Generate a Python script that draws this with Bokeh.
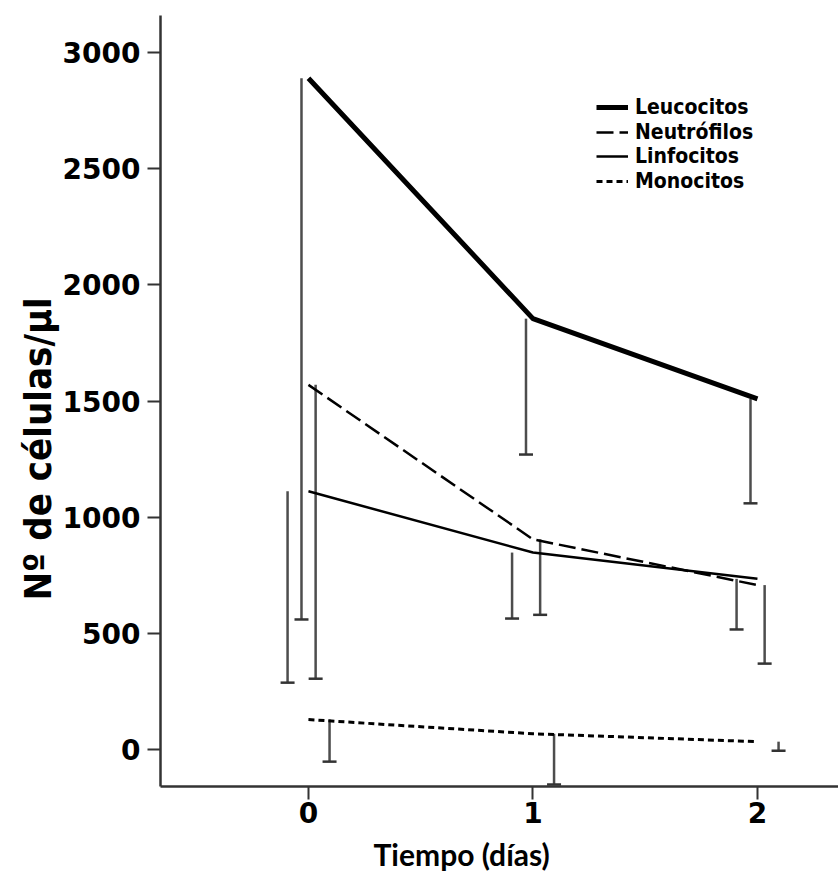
from bokeh.plotting import figure
from bokeh.models import (Range1d, Whisker, ColumnDataSource, Legend, LegendItem,
                          FixedTicker, TeeHead, Title)
from bokeh.embed import file_html
from bokeh.resources import INLINE

# Mean cell counts per day and the lower end of each error bar
days = [0, 1, 2]
leucocitos = [2890, 1855, 1510]
leucocitos_low = [560, 1270, 1060]
neutrofilos = [1570, 905, 708]
neutrofilos_low = [305, 580, 370]
linfocitos = [1112, 848, 735]
linfocitos_low = [288, 564, 517]
monocitos = [129, 68, 34]
monocitos_low = [-52, -150, -5]
series_names = ["Leucocitos", "Neutrófilos", "Linfocitos", "Monocitos"]
y_ticks = [0, 500, 1000, 1500, 2000, 2500, 3000]
x_ticks = [0, 1, 2]
x_title = "Tiempo (días)"
y_title = "Nº de células/µl"

TICK_FONT = "DejaVu Sans"
LABEL_FONT = "Lato"
LEGEND_FONT = "DejaVu Sans Condensed"
FRAME_BOTTOM = 786  # canvas y of the frame's lower edge

p = figure(width=838, height=880, output_backend="svg", toolbar_location=None,
           x_range=Range1d(-0.659, 2.361), y_range=Range1d(-159, 3160),
           min_border_left=160, min_border_right=0, min_border_top=15,
           min_border_bottom=880 - FRAME_BOTTOM)
p.outline_line_color = None
p.xgrid.visible = False
p.ygrid.visible = False
p.background_fill_color = "white"
p.border_fill_color = "white"

# series: values, lower bar ends, horizontal dodge of the bars, line style
styles = [
    (leucocitos, leucocitos_low, -0.031, dict(line_width=5, line_dash="solid")),
    (neutrofilos, neutrofilos_low, 0.032, dict(line_width=2.5, line_dash="17 6")),
    (linfocitos, linfocitos_low, -0.093, dict(line_width=2.5, line_dash="solid")),
    (monocitos, monocitos_low, 0.094, dict(line_width=3, line_dash="6 4")),
]

renderers = []
for name, (vals, lows, dx, st) in zip(series_names, styles):
    src = ColumnDataSource(dict(base=[d + dx for d in days], upper=vals, lower=lows))
    p.add_layout(Whisker(base="base", upper="upper", lower="lower", source=src,
                         dimension="height", line_color="#4d4d4d", line_width=2.5,
                         upper_head=None,
                         lower_head=TeeHead(size=14, line_width=2.5, line_color="#333333")))
    renderers.append(p.line(days, vals, line_color="black", line_join="round", **st))

# one single-row legend per series, stacked at a fixed row pitch
row_centers = [107, 131.5, 156, 180.5]
ROW_HALF = 12.2
for name, r, cy in zip(series_names, renderers, row_centers):
    p.add_layout(Legend(items=[LegendItem(label=name, renderers=[r])],
                        location=(436, FRAME_BOTTOM - (cy + ROW_HALF)),
                        padding=0, margin=0, border_line_color=None,
                        background_fill_alpha=0, glyph_width=32, glyph_height=20,
                        label_height=20, label_standoff=7,
                        label_text_font=LEGEND_FONT, label_text_font_style="bold",
                        label_text_font_size="21px", label_text_color="black"))

for ax in (p.xaxis[0], p.yaxis[0]):
    ax.axis_line_width = 2.5
    ax.axis_line_color = "#333333"
    ax.major_tick_line_width = 2
    ax.major_tick_line_color = "#333333"
    ax.major_tick_out = 13
    ax.major_tick_in = 0
    ax.minor_tick_line_color = None
    ax.major_label_text_font = TICK_FONT
    ax.major_label_text_font_style = "bold"
    ax.major_label_text_font_size = "28px"
    ax.major_label_text_color = "black"

p.yaxis.ticker = FixedTicker(ticks=y_ticks)
p.xaxis.ticker = FixedTicker(ticks=x_ticks)
p.yaxis.major_label_standoff = 7
p.xaxis.major_label_standoff = 2

# axis titles as side panels, shifted along their axes
p.add_layout(Title(text=x_title, align="left", offset=213, standoff=17,
                   text_font=LABEL_FONT, text_font_style="bold",
                   text_font_size="30px", text_color="black"), "below")
p.add_layout(Title(text=y_title, align="left", offset=186, standoff=0,
                   text_font="DejaVu Sans Condensed", text_font_style="bold",
                   text_font_size="38px", text_color="black"), "left")

open("out.html", "w").write(file_html(p, INLINE))
